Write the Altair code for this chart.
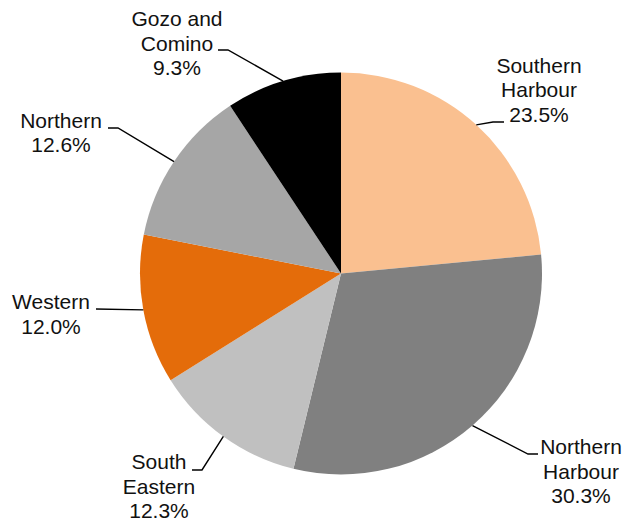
import math
import altair as alt
import pandas as pd

# ---- data ----
regions = ["Southern\nHarbour", "Northern\nHarbour", "South\nEastern", "Western", "Northern", "Gozo and\nComino"]
shares = [23.5, 30.3, 12.3, 12.0, 12.6, 9.3]
colors = ["#FAC090", "#808080", "#C0C0C0", "#E46C0A", "#A6A6A6", "#000000"]

# ---- layout (plot-area pixels) ----
W, H = 615, 513
CX, CY, R = 333, 265.5, 201
# label first-line centre and leader-line elbow / tail end, per slice
label_pos = [(531, 58.5), (573, 440), (151, 455), (43, 295), (53, 113.5), (169, 12)]
elbow_pos = [(485, 114), (520, 446), (194, 462), (88, 301), (110, 120), (220, 42)]
tail_x = [496, 530, 184, 88, 100, 210]

total = sum(shares)
names = [r.replace("\n", " ") for r in regions]
pie_df = pd.DataFrame({"name": names, "share": shares, "order": range(len(shares))})

# leader lines: start at slice mid-angle on the pie edge
rows = []
cum = 0.0
for i, s in enumerate(shares):
    mid = (cum + s / 2) / total * 2 * math.pi
    cum += s
    ex, ey = CX + R * math.sin(mid), CY - R * math.cos(mid)
    rows.append({"name": names[i], "step": 0, "x": ex, "y": ey})
    rows.append({"name": names[i], "step": 1, "x": elbow_pos[i][0], "y": elbow_pos[i][1]})
    rows.append({"name": names[i], "step": 2, "x": tail_x[i], "y": elbow_pos[i][1]})
line_df = pd.DataFrame(rows)

lab_df = pd.DataFrame({
    "name": names,
    "label": [f"{r}\n{s:.1f}%" for r, s in zip(regions, shares)],
    "x": [p[0] for p in label_pos],
    "y": [p[1] for p in label_pos],
})

xs = alt.Scale(domain=[0, W], range=[0, W])
ys = alt.Scale(domain=[0, H], range=[0, H])

pie = alt.Chart(pie_df).mark_arc(radius=R, stroke=None).encode(
    theta=alt.Theta("share:Q", stack=True),
    order=alt.Order("order:Q"),
    color=alt.Color("name:N", scale=alt.Scale(domain=names, range=colors), legend=None),
    x=alt.value(CX),
    y=alt.value(CY),
)

lines = alt.Chart(line_df).mark_line(color="#000000", strokeWidth=1.4).encode(
    x=alt.X("x:Q", scale=xs, axis=None),
    y=alt.Y("y:Q", scale=ys, axis=None),
    detail="name:N",
    order="step:Q",
)

labels = alt.Chart(lab_df).mark_text(
    font="Liberation Sans", fontSize=21, lineHeight=24.5, color="#111111",
    align="center", baseline="middle", lineBreak="\n",
).encode(
    x=alt.X("x:Q", scale=xs, axis=None),
    y=alt.Y("y:Q", scale=ys, axis=None),
    text="label:N",
)

chart = alt.layer(pie, lines, labels).properties(
    width=W, height=H, padding=0, autosize="none"
).configure_view(stroke=None)

chart.save("out.html", embed_options={"renderer": "svg", "actions": False})
